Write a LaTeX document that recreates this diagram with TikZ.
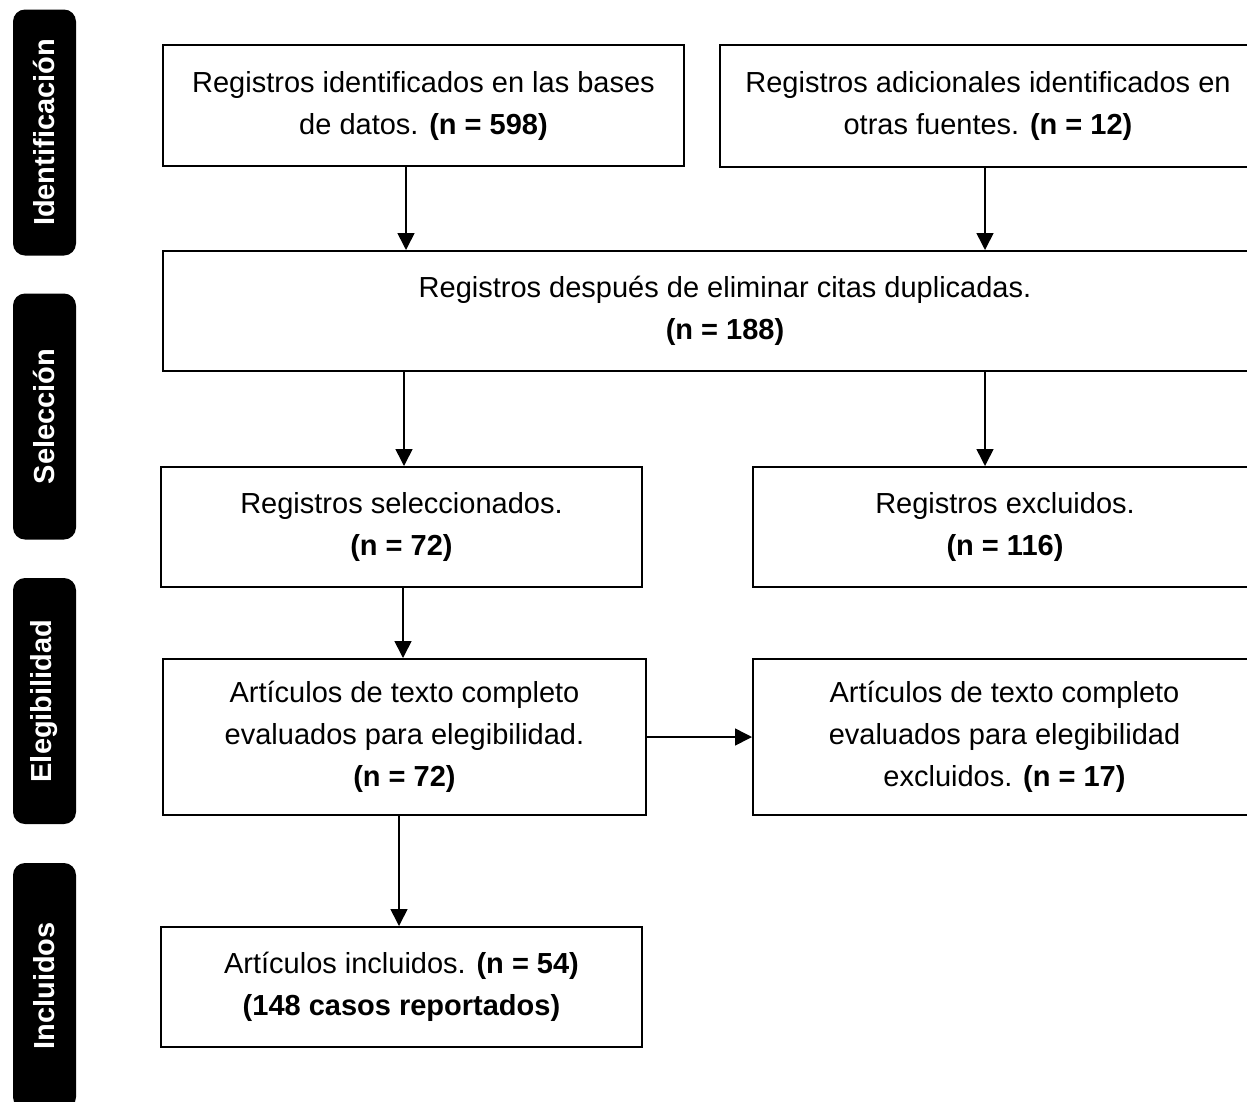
\documentclass[tikz,border=0pt]{standalone}
\usepackage{fontspec}
\setmainfont{Liberation Sans}
\usetikzlibrary{arrows.meta}

\tikzset{
	caja/.style={draw, line width=2pt, align=center, inner sep=0pt,
		font=\fontsize{29}{42}\selectfont},
	fase/.style={fill=black, rounded corners=12pt, text=white, rotate=90,
		inner sep=0pt, minimum width=246, minimum height=63,
		font=\fontsize{29}{35}\selectfont\bfseries},
	flecha/.style={-{Triangle[length=17pt,width=17pt]}, line width=1.6pt},
}

\begin{document}
\begin{tikzpicture}[x=1pt, y=-1pt]
	
	\useasboundingbox (0,0) rectangle (1247,1101);
	
	% fases
	\node[fase] (f1) at (44.5,132.5) {\textbf{Identificación}};
	\node[fase] (f2) at (44.5,416.5) {\textbf{Selección}};
	\node[fase] (f3) at (44.5,701) {\textbf{Elegibilidad}};
	\node[fase] (f4) at (44.5,986) {\textbf{Incluidos}};
	
	% cajas
	\node[caja, minimum width=521, minimum height=121] (b1) at (423.5,105.5)
		{Registros identificados en las bases\\de datos. \textbf{(n = 598)}};
	\node[caja, minimum width=536, minimum height=122] (b2) at (988,106)
		{Registros adicionales identificados en\\otras fuentes. \textbf{(n = 12)}};
	\node[caja, minimum width=1124, minimum height=120] (b3) at (725,311)
		{Registros después de eliminar citas duplicadas.\\\textbf{(n = 188)}};
	\node[caja, minimum width=481, minimum height=120] (b4) at (401.5,527)
		{Registros seleccionados.\\\textbf{(n = 72)}};
	\node[caja, minimum width=504, minimum height=120] (b5) at (1005,527)
		{Registros excluidos.\\\textbf{(n = 116)}};
	\node[caja, minimum width=483, minimum height=156] (b6) at (404.5,737)
		{Artículos de texto completo\\evaluados para elegibilidad.\\\textbf{(n = 72)}};
	\node[caja, minimum width=503, minimum height=156] (b7) at (1004.5,737)
		{Artículos de texto completo\\evaluados para elegibilidad\\excluidos. \textbf{(n = 17)}};
	\node[caja, minimum width=481, minimum height=120] (b8) at (401.5,987)
		{Artículos incluidos. \textbf{(n = 54)}\\\textbf{(148 casos reportados)}};
	
	% flechas
	\draw[flecha] ([xshift=-17.5]b1.south) -- ([xshift=-17.5]b1.south |- b3.north);
	\draw[flecha] ([xshift=-3]b2.south) -- ([xshift=-3]b2.south |- b3.north);
	\draw[flecha] ([xshift=2.5]b4.north |- b3.south) -- ([xshift=2.5]b4.north);
	\draw[flecha] ([xshift=-20]b5.north |- b3.south) -- ([xshift=-20]b5.north);
	\draw[flecha] ([xshift=1.5]b4.south) -- ([xshift=1.5]b4.south |- b6.north);
	\draw[flecha] (b6.east) -- (b7.west);
	\draw[flecha] ([xshift=-2.5]b8.north |- b6.south) -- ([xshift=-2.5]b8.north);
	
\end{tikzpicture}
\end{document}
